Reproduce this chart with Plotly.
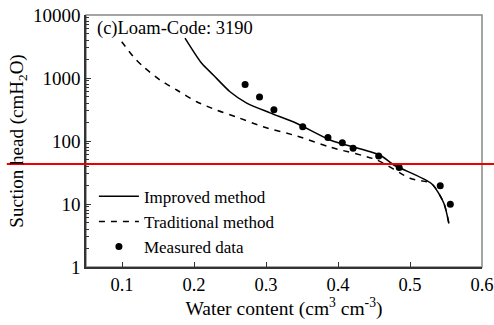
import plotly.graph_objects as go

# Data
improved_x = [0.1875, 0.2107, 0.2268, 0.25, 0.2732, 0.3056, 0.343, 0.389, 0.458, 0.477, 0.53, 0.547, 0.554]
improved_y = [4300, 1710, 1115, 605, 400, 280, 190, 104, 60, 42, 21, 10.3, 4.9]

traditional_x = [0.0996, 0.1157, 0.1296, 0.1528, 0.176, 0.2038, 0.2315, 0.258, 0.296, 0.343, 0.389, 0.454, 0.5, 0.53, 0.547, 0.554]
traditional_y = [3770, 2180, 1510, 930, 645, 420, 309, 243, 168, 120, 80, 50, 25.6, 21, 10.3, 4.9]

measured_x = [0.271, 0.291, 0.311, 0.351, 0.386, 0.406, 0.421, 0.4565, 0.485, 0.542, 0.556]
measured_y = [790, 500, 314, 169, 114, 94, 77, 58, 38, 19.5, 9.9]

ref_line_y = 43

FONT = "Liberation Serif, Times New Roman, Times, serif"

fig = go.Figure()
fig.add_trace(go.Scatter(x=improved_x, y=improved_y, mode="lines", name="Improved method",
                         line=dict(color="black", width=1.5, shape="spline", smoothing=0.7)))
fig.add_trace(go.Scatter(x=traditional_x, y=traditional_y, mode="lines", name="Traditional method",
                         line=dict(color="black", width=1.5, dash="6px,6px", shape="spline", smoothing=0.7)))
fig.add_trace(go.Scatter(x=measured_x, y=measured_y, mode="markers", name="Measured data",
                         marker=dict(color="black", size=7)))

# bounding box
fig.add_shape(type="rect", xref="paper", yref="paper", x0=0, y0=0, x1=1, y1=1,
              line=dict(color="#888888", width=1.5), layer="below")
# red horizontal reference line
fig.add_shape(type="line", xref="paper", yref="y", x0=-0.2, x1=1.04,
              y0=ref_line_y, y1=ref_line_y, line=dict(color="#ee0000", width=2))

fig.add_annotation(text="(c)Loam-Code: 3190", xref="paper", yref="paper", x=0.022, y=0.995,
                   xanchor="left", yanchor="top", showarrow=False,
                   font=dict(family=FONT, size=18.5, color="black"))

fig.update_layout(
    width=494, height=325,
    margin=dict(l=86, r=12, t=15, b=58),
    paper_bgcolor="white", plot_bgcolor="white",
    font=dict(family=FONT, size=17, color="black"),
    showlegend=True,
    legend=dict(x=0.02, y=0.35, xanchor="left", yanchor="top", bgcolor="rgba(0,0,0,0)",
                font=dict(family=FONT, size=17), tracegroupgap=0, itemwidth=40),
)
fig.update_xaxes(range=[0.05, 0.6], tickvals=[0.1, 0.2, 0.3, 0.4, 0.5, 0.6],
                 ticktext=["0.1", "0.2", "0.3", "0.4", "0.5", "0.6"],
                 tickfont=dict(family=FONT, size=18.5), ticklabeloverflow="allow", automargin=False,
                 showgrid=False, zeroline=False, showline=True, linecolor="#333333", linewidth=1.5,
                 ticks="inside", ticklen=5, tickcolor="#333333",
                 title=dict(text="Water content (cm<sup>3</sup> cm<sup>-3</sup>)",
                            font=dict(family=FONT, size=19.5), standoff=6))
fig.update_yaxes(type="log", range=[0, 4], tickvals=[1, 10, 100, 1000, 10000],
                 ticktext=["1", "10", "100", "1000", "10000"],
                 tickfont=dict(family=FONT, size=19), ticklabeloverflow="allow", automargin=False,
                 showgrid=False, zeroline=False, showline=True, linecolor="#333333", linewidth=1.5,
                 ticks="inside", ticklen=5, tickcolor="#333333",
                 minor=dict(ticks="inside", ticklen=3, tickcolor="#333333",
                            tickvals=[m * 10 ** e for e in range(4) for m in range(2, 10)]),
                 title=dict(text="Suction head (cmH<sub>2</sub>O)",
                            font=dict(family=FONT, size=19), standoff=4))

fig.write_html("out.html", config={"displayModeBar": False},
               post_script="document.body.style.margin='0';")
